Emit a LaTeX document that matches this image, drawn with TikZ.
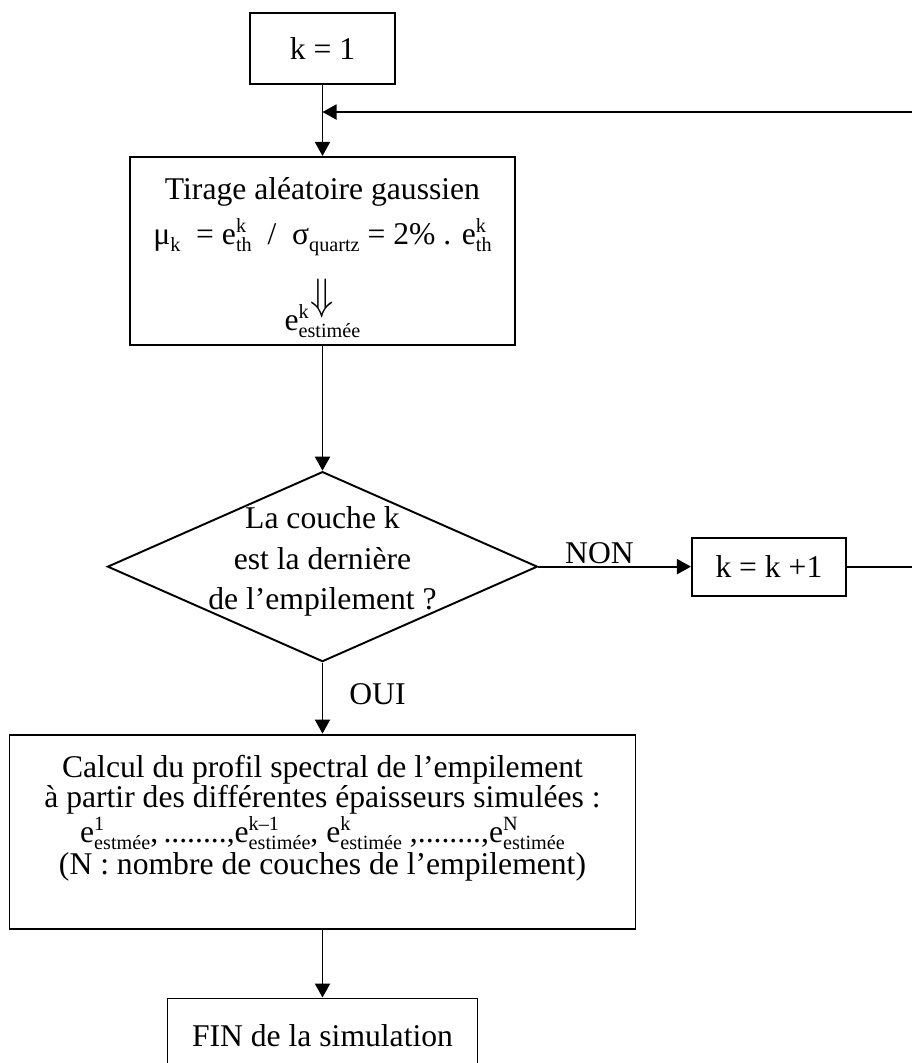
\documentclass[tikz,border=0pt]{standalone}
\usepackage{amsmath}
\usepackage{graphicx}
\usepackage{fontspec}
\setmainfont{Liberation Serif}
\usetikzlibrary{arrows.meta,positioning,shapes.geometric}
\newcommand{\evar}[2]{e\rlap{\raisebox{7pt}{\fontsize{11.5}{12}\selectfont #1}}\raisebox{-4pt}{\fontsize{11.5}{12}\selectfont #2}}
\newcommand{\lowsub}[1]{\raisebox{-4pt}{\fontsize{11.5}{12}\selectfont #1}}

\begin{document}
\begin{tikzpicture}[line width=1.1pt,
    every node/.style={font=\fontsize{18}{20}\selectfont},
    stepbox/.style={draw,rectangle,align=center,inner sep=0pt},
    decision/.style={draw,diamond,minimum width=8.6cm,minimum height=3.8cm,inner sep=0pt},
    flow/.style={-{Triangle[length=2.8mm,width=3mm]}}]
  \useasboundingbox (0,0) rectangle (18.24,-21.26);
  \node[stepbox,minimum width=2.9cm,minimum height=1.42cm] (init) at (6.45,-0.97) {k = 1};
  \node[stepbox,minimum width=7.7cm,minimum height=3.72cm,below=1.42cm of init] (tirage)
       {\mbox{}\\[4pt]
        Tirage aléatoire gaussien\\[6pt]
        μ\lowsub{k}\ \ = \evar{k}{th}\ \ /\ \ σ\lowsub{quartz} = 2\% . \evar{k}{th}\\[12pt]
        \scalebox{1.25}[1.45]{$\Downarrow$}\\[-8pt]
        \evar{k}{estimée}\\[-12pt]
        \mbox{}};
  \node[decision,below=2.5cm of tirage] (test) {};
  \node[align=center,font=\fontsize{18}{23}\selectfont] (testtext) at ([yshift=1mm]test.center)
       {La couche k\\est la dernière\\de l’empilement ?};
  \node[stepbox,minimum width=3.08cm,minimum height=1.16cm,right=3.05cm of test] (next) {k = k +1};
  \node[stepbox,minimum width=12.52cm,minimum height=3.88cm,below=1.42cm of test,
        font=\fontsize{18}{17}\selectfont] (calc)
       {Calcul du profil spectral de l’empilement\\
        à partir des différentes épaisseurs simulées :\\
        \evar{1}{estmée},\,........,\evar{k–1}{estimée}, \evar{k}{estimée} ,........,\evar{N}{estimée}\\[1pt]
        (N : nombre de couches de l’empilement)\\[2pt]
        \mbox{}};
  \node[stepbox,minimum width=6.2cm,minimum height=1.5cm,below=1.36cm of calc] (fin) {FIN de la simulation};
  \coordinate (join) at (6.45,-2.24);
  \coordinate (edge) at (18.6,-2.24);
  \draw[flow] (init) -- (tirage);
  \draw[flow] (tirage) -- (test);
  \draw[flow] (test) -- node[above,pos=0.4,inner sep=1pt] (non) {NON} (next);
  \draw[flow] (test) -- node[right=4mm,pos=0.45] (oui) {OUI} (calc);
  \draw[flow] (calc) -- (fin);
  \draw[flow] (next.east) -- (next.east -| edge) -- (edge) -- (join);
\end{tikzpicture}
\end{document}
